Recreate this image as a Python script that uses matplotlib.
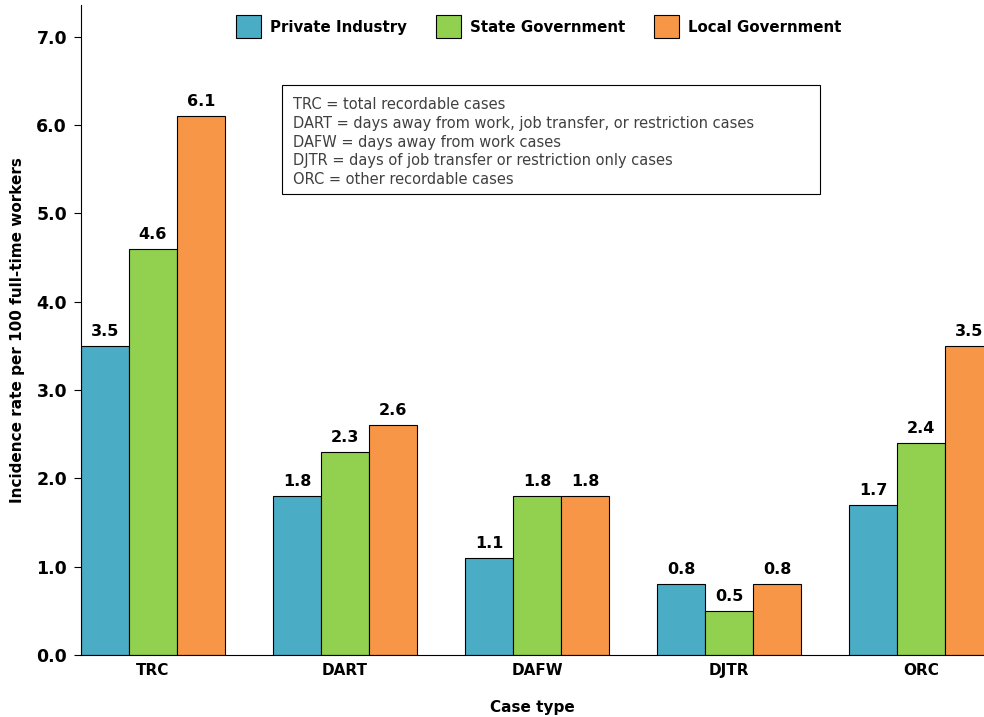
import numpy as np
import matplotlib
matplotlib.use("Agg")
import matplotlib.pyplot as plt
from matplotlib.patches import Rectangle

case_types = ["TRC", "DART", "DAFW", "DJTR", "ORC"]
private_industry = [3.5, 1.8, 1.1, 0.8, 1.7]
state_government = [4.6, 2.3, 1.8, 0.5, 2.4]
local_government = [6.1, 2.6, 1.8, 0.8, 3.5]

series = [("Private Industry", private_industry, "#4BACC6"),
          ("State Government", state_government, "#92D050"),
          ("Local Government", local_government, "#F79646")]

notes = ("TRC = total recordable cases\n"
         "DART = days away from work, job transfer, or restriction cases\n"
         "DAFW = days away from work cases\n"
         "DJTR = days of job transfer or restriction only cases\n"
         "ORC = other recordable cases")

fig = plt.figure(figsize=(9.84, 7.17), dpi=100)
ax = fig.add_axes([0.0823, 0.0865, 0.9177, 0.9065])

x = np.arange(len(case_types))
w = 0.25
for i, (name, vals, col) in enumerate(series):
    bars = ax.bar(x + (i - 1) * w, vals, w, color=col, edgecolor="black",
                  linewidth=0.8, label=name)
    for b, v in zip(bars, vals):
        ax.annotate(f"{v:.1f}", (b.get_x() + b.get_width() / 2, v),
                    xytext=(0, 5), textcoords="offset points",
                    ha="center", va="bottom", fontsize=11.5, fontweight="bold")

ax.set_xlim(-0.375, 4.328)
ax.set_ylim(0, 7.36)
yt = np.arange(0, 7.5, 1.0)
ax.set_yticks(yt)
ax.set_yticklabels([f"{t:.1f}" for t in yt], fontsize=12.5, fontweight="bold")
ax.set_xticks(x)
ax.set_xticklabels(case_types, fontsize=11, fontweight="bold")
ax.tick_params(axis="x", length=0, pad=6)
ax.tick_params(axis="y", length=5, pad=5)

for s in ("top", "right"):
    ax.spines[s].set_visible(False)

ax.set_ylabel("Incidence rate per 100 full-time workers", fontsize=11,
              fontweight="bold")
ax.yaxis.set_label_coords(-0.062, 0.5)
ax.set_xlabel("Case type", fontsize=11, fontweight="bold")
ax.xaxis.set_label_coords(0.5, -0.069)

leg = ax.legend(loc="upper center", bbox_to_anchor=(0.507, 1.005), ncol=3,
                frameon=False, fontsize=10.8, handlelength=1.7, handleheight=2.0,
                columnspacing=1.9, handletextpad=0.6)
for t in leg.get_texts():
    t.set_fontweight("bold")

# definitions box
ax.add_patch(Rectangle((0.2226, 0.709), 0.5954, 0.168, transform=ax.transAxes,
                       facecolor="white", edgecolor="black", linewidth=0.8,
                       zorder=3))
ax.text(0.2348, 0.858, notes, transform=ax.transAxes, ha="left", va="top",
        fontsize=10.5, color="#404040", linespacing=1.3, zorder=4)

fig.savefig("out.png", dpi=100)
